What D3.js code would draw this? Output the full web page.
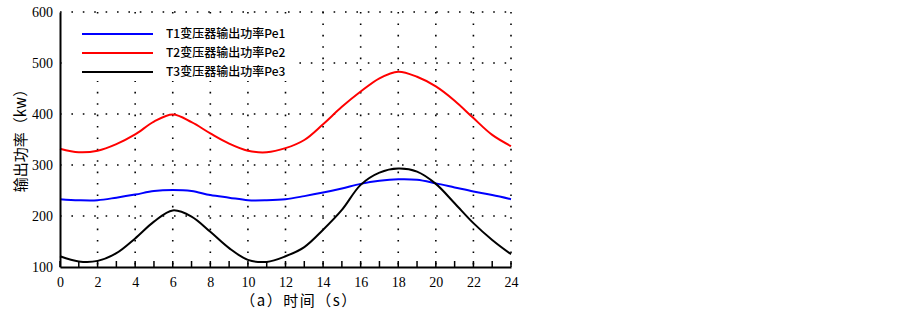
<!DOCTYPE html>
<html><head><meta charset="utf-8">
<script src="https://cdn.jsdelivr.net/npm/d3@7"></script>
<style>body{margin:0;background:#fff}</style>
</head><body>
<svg id="c" width="903" height="309"></svg>
<script>
const hours = [0,1,2,3,4,5,6,7,8,9,10,11,12,13,14,15,16,17,18,19,20,21,22,23,24];
const pe1 = [233,231,231,236,242,249,251,249,241,236,231,231,233,239,246,254,263,269,272,271,264,256,248,241,233];
const pe2 = [332,325,328,341,360,385,399,384,362,342,328,325,333,349,380,414,444,470,483,473,454,426,392,359,337];
const pe3 = [121,111,112,127,156,189,211,199,169,137,114,110,121,139,173,212,261,285,293,287,263,225,186,153,125];
const seriesNames = ["T1变压器输出功率Pe1","T2变压器输出功率Pe2","T3变压器输出功率Pe3"];
const colors = ["#0000ff","#ff0000","#000000"];
const xTicks = [0,2,4,6,8,10,12,14,16,18,20,22,24];
const yTicks = [100,200,300,400,500,600];

const svg = d3.select("#c");
const L=60,R=511,T=12,B=267;
const x = d3.scaleLinear().domain([0,24]).range([L,R]);
const y = d3.scaleLinear().domain([100,600]).range([B,T]);

// grid
const g = svg.append("g");
g.selectAll(".vg").data(xTicks.slice(1)).enter().append("line")
  .attr("x1",d=>x(d)).attr("x2",d=>x(d)).attr("y1",T).attr("y2",B)
  .attr("stroke","#000").attr("stroke-width",1.6).attr("stroke-dasharray","1.6,9.8");
g.selectAll(".hg").data(yTicks.slice(1)).enter().append("line")
  .attr("x1",L).attr("x2",R).attr("y1",d=>y(d)).attr("y2",d=>y(d))
  .attr("stroke","#000").attr("stroke-width",1.6).attr("stroke-dasharray","1.6,9.8");

// legend background hides grid
svg.append("rect").attr("x",L+2).attr("y",T+2).attr("width",236).attr("height",67).attr("fill","#fff");

// lines
const line = d3.line().x((d,i)=>x(hours[i])).y(d=>y(d)).curve(d3.curveCatmullRom.alpha(0.5));
[pe1,pe2,pe3].forEach((s,i)=>{
  svg.append("path").datum(s).attr("d",line).attr("fill","none")
    .attr("stroke",colors[i]).attr("stroke-width",2);
});

// axes
const xAxis = d3.axisBottom(x).tickValues(xTicks).tickSize(0).tickPadding(10).tickFormat(d3.format("d"));
const xa = svg.append("g").attr("transform",`translate(0,${B})`).call(xAxis);
xa.select(".domain").attr("stroke","#000").attr("stroke-width",2);
xa.selectAll("text").attr("font-family","Liberation Serif, Times New Roman, serif").attr("font-size",14).attr("fill","#000");
// minor inner ticks
svg.append("g").selectAll("line").data(d3.range(0,25)).enter().append("line")
  .attr("x1",d=>x(d)).attr("x2",d=>x(d)).attr("y1",B).attr("y2",B-6)
  .attr("stroke","#000").attr("stroke-width",1.5);

const yAxis = d3.axisLeft(y).tickValues(yTicks).tickSize(0).tickPadding(7);
const ya = svg.append("g").attr("transform",`translate(${L},0)`).call(yAxis);
ya.select(".domain").attr("stroke","#000").attr("stroke-width",2);
ya.selectAll("text").attr("font-family","Liberation Serif, Times New Roman, serif").attr("font-size",14).attr("fill","#000");

// legend
const lg = svg.append("g");
seriesNames.forEach((n,i)=>{
  const yy = 34 + i*19;
  lg.append("line").attr("x1",82).attr("x2",153).attr("y1",yy).attr("y2",yy)
    .attr("stroke",colors[i]).attr("stroke-width",2.2);
  lg.append("text").attr("x",166).attr("y",yy+4).text(n)
    .attr("font-family","Noto Sans CJK SC, sans-serif").attr("font-size",12).attr("font-weight",500).attr("fill","#000");
});

// titles
svg.append("text").attr("x",299).attr("y",306).attr("text-anchor","middle")
  .attr("font-family","Noto Sans CJK SC, sans-serif").attr("font-size",15).attr("letter-spacing","1.5px").attr("fill","#000")
  .text("（a）时间（s）");
svg.append("text").attr("transform","translate(26,137) rotate(-90)").attr("text-anchor","middle")
  .attr("font-family","Noto Sans CJK SC, sans-serif").attr("font-size",15).attr("fill","#000")
  .text("输出功率（kw）");
</script>
</body></html>
